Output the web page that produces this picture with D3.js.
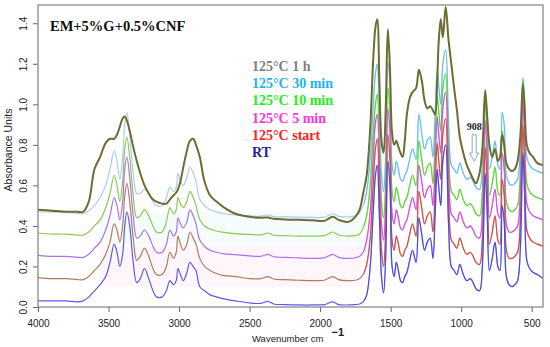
<!DOCTYPE html>
<html>
<head>
<meta charset="utf-8">
<script src="https://cdn.jsdelivr.net/npm/d3@7"></script>
<style>
  body { margin: 0; background: #fff; }
  svg { display: block; }
  .tick text { font-family: "Liberation Sans", Arial, sans-serif; font-size: 10px; fill: #222; }
  .tick line { stroke: #666; }
</style>
</head>
<body>
<script>
// Wavenumber grid (cm-1) shared by all spectra
var wavenumbers = [4000,3900,3800,3720,3680,3640,3600,3560,3520,3490,3460,3440,3420,3400,3385,3370,3350,3325,3300,3275,3245,3215,3185,3160,3120,3090,3065,3040,3020,3008,2990,2970,2945,2923,2900,2880,2853,2820,2780,2735,2680,2600,2500,2420,2370,2330,2250,2150,2050,1970,1910,1870,1800,1750,1720,1695,1670,
  1645,1625,1608,1595,1580,1565,1550,1535,1520,1505,1490,1475,1460,1445,1430,1415,1400,1385,1365,1345,1320,1300,1280,1260,1240,1220,1200,1185,1170,1160,1145,1130,1110,1090,1070,1050,1030,1010,985,960,935,915,895,870,850,830,815,800,780,760,740,725,710,695,680,660,640,620,600,580,563,550,535,515,490,460,420];

// Absorbance for each curing stage
var absRT = [0.03,0.03,0.03,0.025,0.03,0.05,0.08,0.11,0.15,0.22,0.31,0.27,0.2,0.26,0.4,0.47,0.4,0.22,0.12,0.14,0.19,0.14,0.08,0.05,0.05,0.08,0.13,0.11,0.13,0.19,0.16,0.13,0.17,0.22,0.2,0.18,0.1,0.08,0.06,0.05,0.04,0.03,0.02,0.018,0.028,0.015,0.012,0.01,0.01,0.012,0.025,0.012,0.01,0.012,0.015,0.025,0.06,
  0.2,0.45,0.65,0.7,0.45,0.15,0.07,0.25,0.72,0.6,0.2,0.15,0.22,0.18,0.13,0.12,0.15,0.17,0.23,0.28,0.22,0.44,0.36,0.28,0.32,0.34,0.24,0.45,0.68,0.6,0.5,0.72,0.8,0.42,0.2,0.18,0.16,0.21,0.16,0.13,0.14,0.12,0.09,0.08,0.2,0.66,0.45,0.18,0.24,0.32,0.2,0.18,0.5,0.42,0.15,0.11,0.1,0.11,0.13,0.3,0.76,0.55,0.23,0.19,0.17,0.16,0.14];
var absStart = [0.145,0.14,0.14,0.135,0.135,0.15,0.18,0.21,0.26,0.32,0.41,0.38,0.32,0.4,0.55,0.61,0.52,0.34,0.23,0.25,0.29,0.25,0.19,0.16,0.16,0.2,0.27,0.24,0.27,0.35,0.31,0.28,0.31,0.37,0.34,0.31,0.24,0.2,0.18,0.165,0.155,0.15,0.14,0.14,0.15,0.138,0.135,0.132,0.13,0.132,0.15,0.135,0.13,0.132,0.14,0.16,0.21,
  0.34,0.59,0.78,0.83,0.58,0.28,0.2,0.38,0.85,0.73,0.33,0.28,0.35,0.31,0.26,0.25,0.28,0.3,0.36,0.41,0.35,0.57,0.49,0.41,0.45,0.47,0.37,0.58,0.81,0.73,0.63,0.85,0.93,0.55,0.33,0.31,0.29,0.34,0.29,0.26,0.27,0.25,0.22,0.21,0.33,0.79,0.58,0.31,0.37,0.45,0.33,0.31,0.63,0.55,0.28,0.24,0.24,0.25,0.27,0.44,0.9,0.69,0.38,0.34,0.32,0.31,0.3];
var abs5min = [0.255,0.25,0.25,0.245,0.245,0.26,0.29,0.32,0.38,0.45,0.54,0.5,0.43,0.52,0.68,0.74,0.64,0.45,0.34,0.35,0.38,0.35,0.3,0.27,0.27,0.31,0.38,0.35,0.37,0.44,0.41,0.39,0.42,0.48,0.45,0.41,0.33,0.3,0.28,0.27,0.262,0.258,0.252,0.25,0.26,0.248,0.245,0.242,0.24,0.242,0.26,0.245,0.24,0.243,0.25,0.27,0.33,
  0.47,0.72,0.91,0.95,0.71,0.41,0.33,0.51,0.98,0.86,0.46,0.41,0.48,0.44,0.39,0.38,0.41,0.43,0.49,0.54,0.48,0.7,0.62,0.54,0.58,0.6,0.5,0.71,0.94,0.86,0.76,0.98,1.06,0.68,0.46,0.44,0.42,0.47,0.42,0.39,0.4,0.38,0.35,0.34,0.46,0.92,0.71,0.44,0.5,0.58,0.46,0.44,0.76,0.68,0.41,0.37,0.37,0.38,0.4,0.57,1.03,0.82,0.51,0.47,0.45,0.44,0.43];
var abs10min = [0.365,0.36,0.36,0.355,0.355,0.37,0.4,0.43,0.49,0.56,0.65,0.6,0.52,0.62,0.78,0.84,0.74,0.55,0.44,0.45,0.48,0.45,0.4,0.37,0.37,0.42,0.49,0.46,0.48,0.54,0.51,0.49,0.52,0.57,0.54,0.5,0.43,0.4,0.385,0.375,0.368,0.362,0.358,0.356,0.365,0.354,0.352,0.35,0.35,0.352,0.37,0.355,0.35,0.353,0.36,0.39,0.45,
  0.6,0.84,1.0,1.05,0.82,0.52,0.44,0.62,1.08,0.97,0.57,0.52,0.59,0.55,0.5,0.49,0.52,0.54,0.6,0.65,0.6,0.82,0.73,0.65,0.69,0.71,0.61,0.82,1.04,0.97,0.87,1.08,1.15,0.79,0.57,0.55,0.53,0.58,0.53,0.5,0.51,0.49,0.46,0.45,0.57,1.02,0.82,0.55,0.61,0.69,0.57,0.55,0.87,0.79,0.52,0.48,0.47,0.48,0.5,0.67,1.12,0.92,0.61,0.57,0.55,0.54,0.53];
var abs30min = [0.47,0.468,0.466,0.462,0.462,0.475,0.5,0.54,0.6,0.68,0.77,0.72,0.63,0.74,0.9,0.96,0.85,0.66,0.56,0.56,0.58,0.56,0.52,0.5,0.5,0.54,0.59,0.57,0.59,0.66,0.62,0.6,0.64,0.69,0.66,0.62,0.53,0.5,0.48,0.47,0.46,0.455,0.45,0.448,0.455,0.446,0.445,0.443,0.442,0.443,0.46,0.447,0.445,0.45,0.465,0.5,0.57,
  0.73,0.98,1.15,1.2,0.95,0.65,0.57,0.75,1.21,1.1,0.7,0.65,0.72,0.68,0.63,0.62,0.65,0.67,0.73,0.78,0.73,0.95,0.86,0.78,0.82,0.84,0.74,0.95,1.17,1.1,1.0,1.2,1.27,0.92,0.7,0.68,0.66,0.71,0.66,0.63,0.64,0.62,0.59,0.58,0.7,1.05,0.95,0.68,0.74,0.82,0.7,0.68,0.96,0.9,0.65,0.61,0.6,0.61,0.63,0.8,1.13,1.02,0.74,0.7,0.68,0.67,0.66];
var abs1h = [0.48,0.475,0.47,0.47,0.47,0.52,0.68,0.74,0.81,0.83,0.83,0.85,0.89,0.93,0.94,0.92,0.87,0.79,0.72,0.66,0.6,0.56,0.53,0.52,0.51,0.51,0.53,0.55,0.565,0.58,0.62,0.69,0.77,0.82,0.83,0.8,0.74,0.62,0.55,0.52,0.49,0.46,0.445,0.44,0.442,0.435,0.432,0.43,0.428,0.425,0.445,0.43,0.42,0.445,0.48,0.56,0.65,
  0.88,1.2,1.38,1.42,1.12,0.82,0.76,0.98,1.37,1.18,0.86,0.8,0.82,0.79,0.76,0.74,0.82,0.95,1.03,1.06,1.08,1.17,1.12,1.02,0.98,0.99,0.97,0.95,1.12,1.3,1.42,1.33,1.48,1.32,1.2,1.08,0.97,0.84,0.76,0.7,0.66,0.63,0.61,0.66,0.78,1.07,0.93,0.8,0.74,0.78,0.72,0.74,0.85,0.8,0.71,0.68,0.67,0.68,0.72,0.85,1.1,0.98,0.8,0.76,0.74,0.71,0.7];

// Legend entries (top to bottom) and tick values
var legendLabels = ["125°C 1 h", "125°C 30 min", "125°C 10 min", "125°C 5 min", "125°C start", "RT"];
var legendColors = ["#808080", "#1fb4ee", "#22ee22", "#ff30dd", "#ff2020", "#22229c"];
var xTicks = [4000, 3500, 3000, 2500, 2000, 1500, 1000, 500];
var yTicks = [0.0, 0.2, 0.4, 0.6, 0.8, 1.0, 1.2, 1.4];

var svgWidth = 550;
var svgHeight = 347;
var margin = { top: 5, right: 7, bottom: 40, left: 38 };
var width = svgWidth - margin.left - margin.right;
var height = svgHeight - margin.top - margin.bottom;

var svg = d3.select("body").append("svg")
  .attr("width", svgWidth)
  .attr("height", svgHeight);

var chartGroup = svg.append("g")
  .attr("transform", `translate(${margin.left}, ${margin.top})`);

var x = d3.scaleLinear().domain([4000, 420]).range([0, width]);
var y = d3.scaleLinear().domain([0, 1.49]).range([height, 0]);

chartGroup.append("clipPath").attr("id", "plotClip")
  .append("rect").attr("width", width).attr("height", height);
// fingerprint region, where the peaks show in the bright legend colours
chartGroup.append("clipPath").attr("id", "fpClip")
  .append("rect").attr("x", x(1690)).attr("width", width - x(1690)).attr("height", height);

// faint background bands
chartGroup.append("rect")
  .attr("x", x(3560)).attr("width", x(1700) - x(3560))
  .attr("y", y(0.30)).attr("height", y(0.10) - y(0.30))
  .attr("fill", "#fef6fa");
chartGroup.append("rect")
  .attr("x", x(3560)).attr("width", x(1700) - x(3560))
  .attr("y", y(0.47)).attr("height", y(0.31) - y(0.47))
  .attr("fill", "#f5fcfc");

// spectra, drawn back to front
var series = [
  { values: abs30min, color: "#a9cdf0", bright: legendColors[1], w: 1.2 },
  { values: abs10min, color: "#8dc850", bright: legendColors[2], w: 1.2 },
  { values: abs5min, color: "#ad72e6", bright: legendColors[3], w: 1.2 },
  { values: absStart, color: "#b07c5c", bright: legendColors[4], w: 1.2 },
  { values: absRT, color: "#5a5af0", bright: "#3a3ae8", w: 1.2 },
  { values: abs1h, color: "#6e6c30", bright: null, w: 2 }
];

var line = d3.line()
  .x(d => x(d[0]))
  .y(d => y(d[1]))
  .curve(d3.curveCatmullRom.alpha(0.5));

var plot = chartGroup.append("g").attr("clip-path", "url(#plotClip)");
series.forEach(function(s) {
  var pts = wavenumbers.map((w, i) => [w, s.values[i]]);
  plot.append("path")
    .datum(pts)
    .attr("d", line)
    .attr("fill", "none")
    .attr("stroke", s.color)
    .attr("stroke-width", s.w)
    .attr("stroke-linejoin", "round");
  if (s.bright) {
    plot.append("g").attr("clip-path", "url(#fpClip)")
      .append("path")
      .datum(pts)
      .attr("d", line)
      .attr("fill", "none")
      .attr("stroke", s.bright)
      .attr("stroke-opacity", 0.5)
      .attr("stroke-width", s.w)
      .attr("stroke-linejoin", "round");
  }
});

// axes
var bottomAxis = d3.axisBottom(x).tickValues(xTicks).tickSize(5).tickPadding(8).tickFormat(d3.format("d"));
var leftAxis = d3.axisLeft(y).tickValues(yTicks).tickSize(5).tickFormat(d3.format(".1f"));

var xAxis = chartGroup.append("g")
  .attr("transform", `translate(0, ${height})`)
  .call(bottomAxis);
xAxis.select(".domain").remove();

var yAxis = chartGroup.append("g").call(leftAxis);
yAxis.select(".domain").remove();
yAxis.selectAll(".tick text")
  .attr("transform", "rotate(-90)")
  .attr("x", 0)
  .attr("y", -11)
  .attr("dy", 0)
  .style("text-anchor", "middle");

chartGroup.append("rect")
  .attr("width", width).attr("height", height)
  .attr("fill", "none").attr("stroke", "#808080").attr("stroke-width", 1.2);

// axis titles
chartGroup.append("text")
  .attr("transform", "rotate(-90)")
  .attr("x", -(150 - margin.top))
  .attr("y", -26)
  .attr("text-anchor", "middle")
  .attr("font-family", "Liberation Sans, Arial, sans-serif")
  .attr("font-size", "10.5px")
  .attr("fill", "#222")
  .text("Absorbance Units");

var xTitle = svg.append("text")
  .attr("x", 252).attr("y", 342)
  .attr("font-family", "Liberation Sans, Arial, sans-serif")
  .attr("font-size", "9.5px")
  .attr("fill", "#222");
xTitle.append("tspan").text("Wavenumber cm");
xTitle.append("tspan").attr("dx", 8).attr("dy", -6)
  .attr("font-size", "11px").attr("font-weight", "bold").text("\u22121");

// title
svg.append("text")
  .attr("x", 50).attr("y", 30.5)
  .attr("font-family", "Liberation Serif, Times New Roman, serif")
  .attr("font-weight", "bold")
  .attr("font-size", "14.5px")
  .attr("fill", "#111")
  .text("EM+5%G+0.5%CNF");

// legend
svg.append("g").selectAll("text")
  .data(legendLabels)
  .enter()
  .append("text")
  .attr("x", 252)
  .attr("y", (d, i) => 71 + i * 17.2)
  .attr("font-family", "Liberation Serif, Times New Roman, serif")
  .attr("font-weight", "bold")
  .attr("font-size", "14px")
  .attr("fill", (d, i) => legendColors[i])
  .text(d => d);

// 908 annotation with hollow arrow
var markWn = 908;
chartGroup.append("text")
  .attr("x", x(markWn))
  .attr("y", y(0.875))
  .attr("text-anchor", "middle")
  .attr("font-family", "Liberation Serif, Times New Roman, serif")
  .attr("font-weight", "bold")
  .attr("font-size", "10px")
  .attr("fill", "#222")
  .text("908");

var ax = x(markWn), aTop = y(0.85), aNeck = y(0.76), aTip = y(0.72);
chartGroup.append("path")
  .attr("d", `M${ax - 2},${aTop} L${ax + 2},${aTop} L${ax + 2},${aNeck} L${ax + 4.5},${aNeck} L${ax},${aTip} L${ax - 4.5},${aNeck} L${ax - 2},${aNeck} Z`)
  .attr("fill", "#fff")
  .attr("stroke", "#8aa4d2")
  .attr("stroke-width", 1);
</script>
</body>
</html>
